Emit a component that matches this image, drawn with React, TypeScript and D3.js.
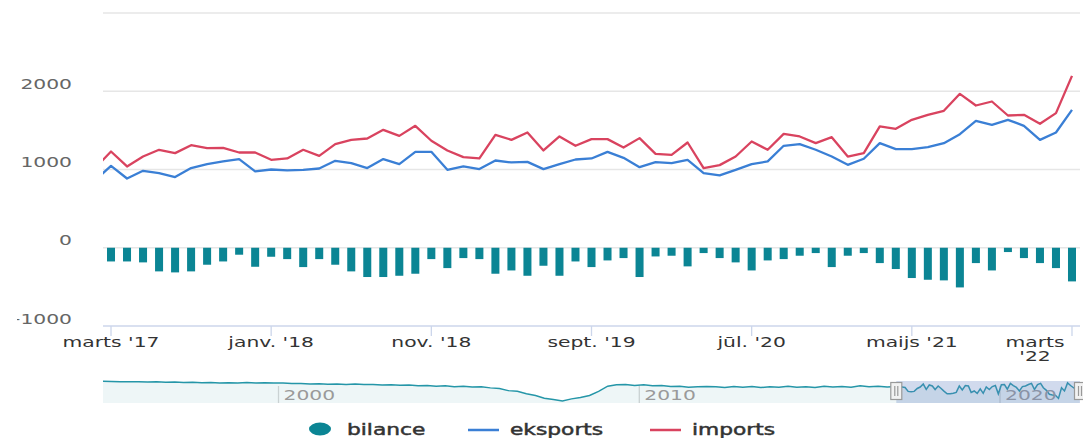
import { useMemo } from "react";
import * as d3 from "d3";

// monthly values, Feb 2017 .. Mar 2022 (milj. EUR)
const importsData = [
  1018, 1230, 1039, 1166, 1252, 1209, 1311, 1273, 1277, 1217, 1217, 1124, 1141,
  1252, 1175, 1324, 1379, 1396, 1507, 1430, 1558, 1367, 1243, 1158, 1141,
  1443, 1379, 1473, 1243, 1422, 1303, 1388, 1388, 1281, 1401, 1200, 1188,
  1345, 1018, 1056, 1166, 1358, 1252, 1456, 1422, 1337, 1413, 1166, 1209,
  1550, 1520, 1635, 1699, 1750, 1967, 1818, 1869, 1690, 1699, 1584, 1720, 2197,
];
const exportsData = [
  861, 1047, 885, 983, 954, 903, 1018, 1069, 1103, 1133, 975, 1000, 990,
  996, 1013, 1111, 1081, 1018, 1133, 1069, 1226, 1226, 996, 1039, 1005,
  1115, 1090, 1098, 1005, 1069, 1128, 1141, 1226, 1149, 1030, 1094, 1081,
  1124, 954, 924, 996, 1069, 1103, 1303, 1324, 1252, 1166, 1060, 1137,
  1337, 1260, 1260, 1286, 1337, 1452, 1622, 1571, 1635, 1558, 1379, 1473, 1762,
];
const bilanceData = [
  -157, -175, -175, -187, -302, -315, -302, -217, -175, -89, -243, -115, -145,
  -247, -145, -217, -302, -374, -374, -358, -332, -145, -260, -132, -145,
  -332, -290, -358, -230, -358, -175, -247, -162, -132, -374, -111, -102,
  -238, -68, -132, -187, -290, -162, -145, -102, -68, -247, -102, -68,
  -196, -272, -387, -409, -417, -507, -196, -290, -55, -132, -196, -260, -430,
];

// navigator history, quarterly 1995 .. 2016
const navHistory = [
  -10, -15, -20, -25, -20, -30, -25, -35, -30, -40, -35, -50,
  -45, -55, -50, -60, -45, -55, -50, -60, -60, -75, -70, -85,
  -80, -95, -85, -100, -90, -105, -100, -115, -110, -125, -115, -135,
  -130, -150, -140, -165, -150, -175, -170, -200, -220, -280, -300, -370,
  -420, -500, -540, -580, -520, -480, -420, -300, -150, -110, -100, -130,
  -110, -140, -130, -160, -150, -180, -170, -160, -170, -190, -160, -185,
  -160, -190, -170, -180, -150, -180, -165, -190, -150, -175, -160, -180,
  -140, -170, -150, -175,
];

const xTickLabels = ["marts '17", "janv. '18", "nov. '18", "sept. '19", "jūl. '20", "maijs '21", "marts '22"];
const yTicks = [-1000, 0, 1000, 2000, 3000];
const navYears = [2000, 2010, 2020];

const RED = "#d9435f";
const BLUE = "#3a7fd5";
const TEAL = "#0b8594";
const SX = 1.45;
const FONT = "DejaVu Sans, sans-serif";

function T({ x, y, anchor = "start", size = 14, fill = "#333", stroke = "none", children }: any) {
  return (
    <text transform={`translate(${x},${y}) scale(${SX},1)`} textAnchor={anchor} fontSize={size}
      fontFamily={FONT} fill={fill} stroke={stroke} strokeWidth={0.45}>{children}</text>
  );
}

export default function App() {
  const width = 1083;
  const height = 438;
  const left = 103, right = 1080, top = 13, bottom = 326;

  const xScale = useMemo(() => d3.scaleLinear().domain([0.5, 61.5]).range([left, right]), []);
  const yScale = useMemo(() => d3.scaleLinear().domain([-1000, 3000]).range([bottom, top]), []);

  const line = d3.line<number>().x((_, i) => xScale(i)).y((d) => yScale(d));

  const navX = d3.scaleTime().domain([new Date(2000, 0, 1), new Date(2020, 0, 1)]).range([278.5, 1000]);
  const navY = d3.scaleLinear().domain([-640, 0]).range([403, 381]);
  const navData: [Date, number][] = [
    ...navHistory.map((v, k) => [new Date(1995, 1 + 3 * k, 15), v] as [Date, number]),
    ...bilanceData.map((v, i) => [new Date(2017, 1 + i, 15), v] as [Date, number]),
  ];
  const navLine = d3.line<[Date, number]>().x((d) => navX(d[0])).y((d) => navY(d[1]));
  const navArea = d3.area<[Date, number]>().x((d) => navX(d[0])).y0(403).y1((d) => navY(d[1]));
  const maskX = navX(new Date(2017, 1, 15));

  const barW = (xScale(1) - xScale(0)) * 0.5;

  return (
    <svg width={width} height={height} style={{ position: "absolute", left: 0, top: 0, background: "#fff" }}>
      <defs>
        <clipPath id="plot"><rect x={left} y={0} width={right - left} height={bottom} /></clipPath>
        <clipPath id="ylab"><rect x={17} y={0} width={100} height={height} /></clipPath>
        <clipPath id="nav"><rect x={left} y={370} width={right - left} height={40} /></clipPath>
      </defs>

      {yTicks.map((t) => (
        <line key={t} x1={left} x2={right} y1={yScale(t)} y2={yScale(t)}
          stroke={t === -1000 ? "#ccd6eb" : "#e6e6e6"} strokeWidth={1.3} />
      ))}
      <g clipPath="url(#ylab)">
        {yTicks.filter((t) => t < 3000).map((t) => (
          <T key={t} x={72} y={yScale(t) - 2.5} anchor="end" fill="#666">{t}</T>
        ))}
      </g>

      {xTickLabels.map((lab, k) => {
        const x = xScale(1 + 10 * k);
        return (
          <g key={lab}>
            <line x1={x} x2={x} y1={bottom} y2={bottom + 10} stroke="#ccd6eb" strokeWidth={1.3} />
            {k < xTickLabels.length - 1 ? (
              <T x={x} y={347} anchor="middle">{lab}</T>
            ) : (
              <>
                <T x={1035} y={347} anchor="middle">{lab.split(" ")[0]}</T>
                <T x={1035} y={361} anchor="middle">{lab.split(" ")[1]}</T>
              </>
            )}
          </g>
        );
      })}

      <g clipPath="url(#plot)">
        {bilanceData.map((v, i) => (
          <rect key={i} x={xScale(i) - barW / 2} y={yScale(0)} width={barW}
            height={yScale(v) - yScale(0)} fill={TEAL} />
        ))}
        <path d={line(exportsData) ?? ""} fill="none" stroke={BLUE} strokeWidth={2.3} strokeLinejoin="round" />
        <path d={line(importsData) ?? ""} fill="none" stroke={RED} strokeWidth={2.3} strokeLinejoin="round" />
      </g>

      {/* navigator */}
      <g clipPath="url(#nav)">
        {navYears.map((yr) => (
          <line key={yr} x1={navX(new Date(yr, 0, 1))} x2={navX(new Date(yr, 0, 1))} y1={386} y2={403}
            stroke="#d9d9d9" strokeWidth={1.3} />
        ))}
        <path d={navArea(navData) ?? ""} fill="rgba(14,132,148,0.07)" />
        <path d={navLine(navData) ?? ""} fill="none" stroke="#2596a8" strokeWidth={1.5} />
        {navYears.map((yr) => (
          <T key={yr} x={navX(new Date(yr, 0, 1)) + 5} y={400} fill="#9a9a9a">{yr}</T>
        ))}
        <rect x={maskX} y={381} width={right - maskX} height={22} fill="rgba(102,133,194,0.3)" />
      </g>
      {[maskX, right].map((hx, k) => (
        <g key={k}>
          <rect x={hx - 5.5} y={382.5} width={11} height={17} fill="#f2f2f2" stroke="#999" strokeWidth={1.2} />
          <line x1={hx - 1.5} x2={hx - 1.5} y1={386} y2={396} stroke="#999" strokeWidth={1.2} />
          <line x1={hx + 1.5} x2={hx + 1.5} y1={386} y2={396} stroke="#999" strokeWidth={1.2} />
        </g>
      ))}

      {/* legend */}
      <ellipse cx={320} cy={429} rx={11} ry={6.5} fill={TEAL} />
      <T x={347} y={435} size={15} stroke="#333">bilance</T>
      <line x1={468} x2={499} y1={430} y2={430} stroke={BLUE} strokeWidth={2.5} />
      <T x={510} y={435} size={15} stroke="#333">eksports</T>
      <line x1={650} x2={681} y1={430} y2={430} stroke={RED} strokeWidth={2.5} />
      <T x={692} y={435} size={15} stroke="#333">imports</T>
    </svg>
  );
}
